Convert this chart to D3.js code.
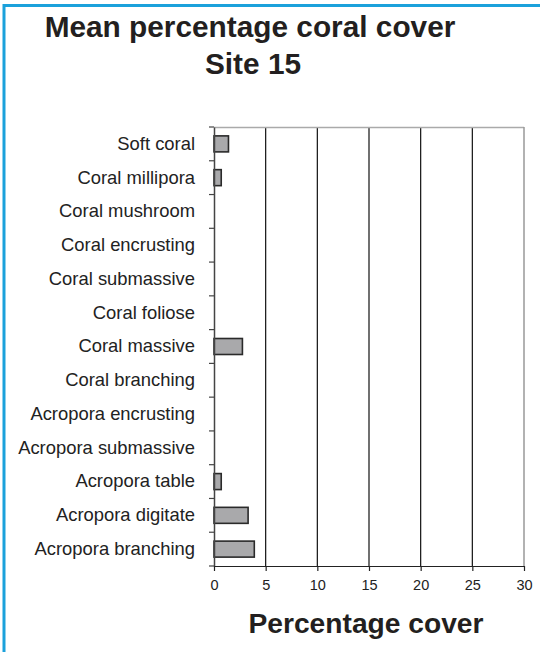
<!DOCTYPE html>
<html><head><meta charset="utf-8">
<script src="https://cdn.jsdelivr.net/npm/d3@7"></script>
<style>html,body{margin:0;padding:0;background:#fff;}svg{display:block;}</style>
</head><body>
<script>
const categories = ["Soft coral","Coral millipora","Coral mushroom","Coral encrusting","Coral submassive","Coral foliose","Coral massive","Coral branching","Acropora encrusting","Acropora submassive","Acropora table","Acropora digitate","Acropora branching"];
const values = [1.4, 0.7, 0, 0, 0, 0, 2.75, 0, 0, 0, 0.7, 3.3, 3.9];
const xTicks = [0,5,10,15,20,25,30];
const title1 = "Mean percentage coral cover";
const title2 = "Site 15";
const xTitle = "Percentage cover";

const W = 540, H = 652;
const m = {left:214, right:524, top:127, bottom:566};
const svg = d3.select("body").append("svg").attr("width",W).attr("height",H);
const font = "Liberation Sans, Arial, Helvetica, sans-serif";

// border
svg.append("rect").attr("x",0).attr("y",0).attr("width",W).attr("height",H).attr("fill","#fff");
svg.append("line").attr("x1",3).attr("x2",W).attr("y1",5.5).attr("y2",5.5).attr("stroke","#1ba1db").attr("stroke-width",3);
svg.append("line").attr("x1",4).attr("x2",4).attr("y1",4).attr("y2",H).attr("stroke","#1ba1db").attr("stroke-width",3);

const x = d3.scaleLinear().domain([0,30]).range([m.left,m.right]);
const y = d3.scaleBand().domain(categories).range([m.top,m.bottom]);

// gridlines
svg.append("g").selectAll("line").data(xTicks.filter(t=>t>0&&t<30)).join("line")
  .attr("x1",d=>x(d)).attr("x2",d=>x(d)).attr("y1",m.top).attr("y2",m.bottom)
  .attr("stroke","#111").attr("stroke-width",1.2);
// frame top/right
svg.append("line").attr("x1",m.left).attr("x2",m.right).attr("y1",m.top+0.5).attr("y2",m.top+0.5).attr("stroke","#aaa").attr("stroke-width",1.5);
svg.append("line").attr("x1",m.right).attr("x2",m.right).attr("y1",m.top).attr("y2",m.bottom).attr("stroke","#999").attr("stroke-width",1.5);

// bars
const bh = 16;
svg.append("g").selectAll("rect").data(categories.map((c,i)=>({c,v:values[i]})).filter(d=>d.v>0)).join("rect")
  .attr("x",x(0)).attr("y",d=>y(d.c)+y.bandwidth()/2-bh/2)
  .attr("width",d=>x(d.v)-x(0)).attr("height",bh)
  .attr("fill","#a9a9ab").attr("stroke","#2a2a2a").attr("stroke-width",1.6);

// y axis
const yAxis = svg.append("g").attr("transform",`translate(${m.left},0)`)
  .call(d3.axisLeft(y).tickSize(0).tickPadding(19));
yAxis.select(".domain").attr("stroke","#444").attr("stroke-width",1.5);
yAxis.selectAll("text").attr("font-family",font).attr("font-size",18.4).attr("fill","#222");
// y tick marks at band boundaries
const bounds = d3.range(categories.length+1).map(i=>m.top+i*y.step());
svg.append("g").selectAll("line").data(bounds).join("line")
  .attr("x1",m.left-5).attr("x2",m.left).attr("y1",d=>d).attr("y2",d=>d)
  .attr("stroke","#444").attr("stroke-width",1.2);

// x axis
const xAxis = svg.append("g").attr("transform",`translate(0,${m.bottom})`)
  .call(d3.axisBottom(x).tickValues(xTicks).tickSize(5).tickPadding(9).tickSizeOuter(0));
xAxis.select(".domain").attr("stroke","#222").attr("stroke-width",1.2);
xAxis.selectAll(".tick line").attr("stroke","#222").attr("stroke-width",1.2);
xAxis.selectAll("text").attr("font-family",font).attr("font-size",14.5).attr("fill","#222");

// titles
svg.append("text").attr("x",250).attr("y",37).attr("text-anchor","middle")
  .attr("font-family",font).attr("font-weight","bold").attr("font-size",29.8).attr("fill","#231f20").text(title1);
svg.append("text").attr("x",253).attr("y",74).attr("text-anchor","middle")
  .attr("font-family",font).attr("font-weight","bold").attr("font-size",29.8).attr("fill","#231f20").text(title2);
svg.append("text").attr("x",366).attr("y",633).attr("text-anchor","middle")
  .attr("font-family",font).attr("font-weight","bold").attr("font-size",28.2).attr("fill","#231f20").text(xTitle);
</script>
</body></html>
